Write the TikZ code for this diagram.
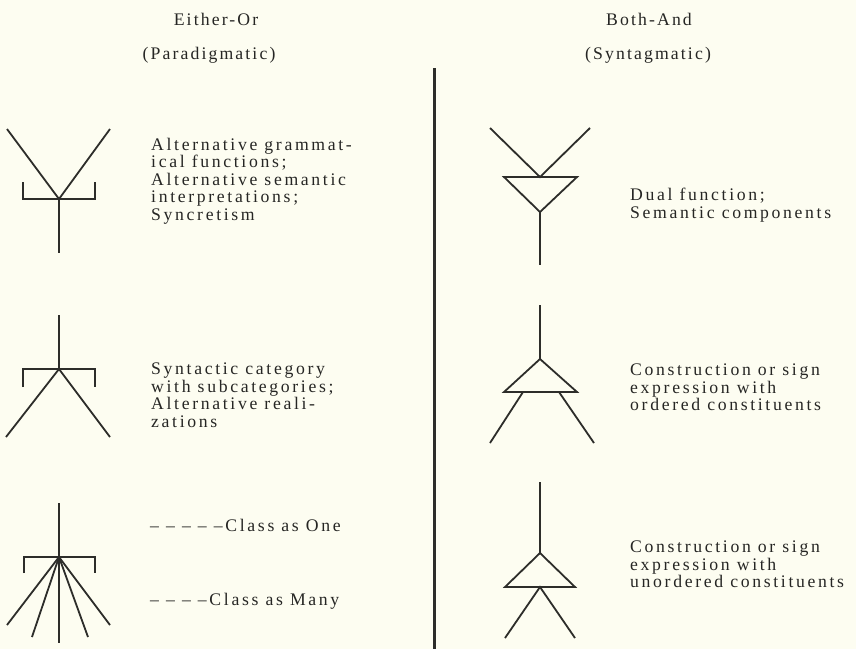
\documentclass[tikz,border=0pt]{standalone}
\usepackage{fontspec}
\setmainfont{Liberation Serif}
\newfontfamily\reffont[LetterSpace=15]{Liberation Serif}
\newfontfamily\headfont[LetterSpace=12]{Liberation Serif}
\definecolor{paper}{RGB}{253,253,241}
\definecolor{ink}{RGB}{45,45,42}
\definecolor{txt}{RGB}{38,38,36}
\begin{document}
\begin{tikzpicture}[x=1pt,y=-1pt,
  fig/.style={draw=ink,line width=1.8pt,line join=miter},
  divider/.style={draw=ink,line width=3pt},
  lbl/.style={text=txt,inner sep=0pt,align=left,anchor=north west,font=\reffont\fontsize{17.7}{17.5}\selectfont},
  head/.style={text=txt,inner sep=0pt,font=\headfont\fontsize{17.7}{17.5}\selectfont}]
\fill[paper] (0,0) rectangle (856,649);
\useasboundingbox (0,0) rectangle (856,649);
% headers
\node[head] (h1) at (216,19) {Either-Or};
\node[head] (h2) at (209,55) {(Paradigmatic)};
\node[head] (h3) at (649,19) {Both-And};
\node[head] (h4) at (648,55) {(Syntagmatic)};
% divider
\coordinate (dtop) at (434,68);
\coordinate (dbot) at (434,649);
\draw[divider] (dtop) -- (dbot);
% left figure 1
\coordinate (a1) at (59,199);
\draw[fig] (7,129) -- (a1) -- (110,129);
\draw[fig] (a1) -- (59,253);
\draw[fig] (23,182) -- (23,199) -- (95,199) -- (95,182);
% left figure 2
\coordinate (a2) at (59,369);
\draw[fig] (59,315) -- (a2);
\draw[fig] (6,437) -- (a2) -- (110,437);
\draw[fig] (23,387) -- (23,369) -- (95,369) -- (95,387);
% left figure 3
\coordinate (a3) at (59,557);
\draw[fig] (59,503) -- (a3);
\draw[fig] (24,573) -- (24,557) -- (95,557) -- (95,573);
\foreach \p in {(7,625),(32,637),(59,643),(88,637),(110,625)}
  \draw[fig] (a3) -- \p;
% right figure 1
\coordinate (b1) at (540,177);
\draw[fig] (490,128) -- (b1) -- (590,128);
\draw[fig] (504,177) -- (577,177) -- (540,212) -- cycle;
\draw[fig] (540,212) -- (540,265);
% right figure 2
\coordinate (b2) at (540,359);
\draw[fig] (540,305) -- (b2);
\draw[fig] (b2) -- (504,392) -- (577,392) -- cycle;
\draw[fig] (523,392) -- (490,443);
\draw[fig] (559,392) -- (594,443);
% right figure 3
\coordinate (b3) at (540,553);
\draw[fig] (540,482) -- (b3);
\draw[fig] (b3) -- (505,587) -- (575,587) -- cycle;
\coordinate (c3) at (540,587);
\draw[fig] (505,638) -- (c3) -- (575,638);
% labels left
\node[lbl] (t1) at (151,138) {Alternative grammat-\\ical functions;\\Alternative semantic\\interpretations;\\Syncretism};
\node[lbl] (t2) at (151,363) {Syntactic category\\with subcategories;\\Alternative reali-\\zations};
\node[lbl] (t3) at (150,519) {– – – – –Class as One};
\node[lbl] (t4) at (150,593) {– – – –Class as Many};
% labels right
\node[lbl] (r1) at (630,188) {Dual function;\\Semantic components};
\node[lbl] (r2) at (630,364) {Construction or sign\\expression with\\ordered constituents};
\node[lbl] (r3) at (630,541) {Construction or sign\\expression with\\unordered constituents};
\end{tikzpicture}
\end{document}
